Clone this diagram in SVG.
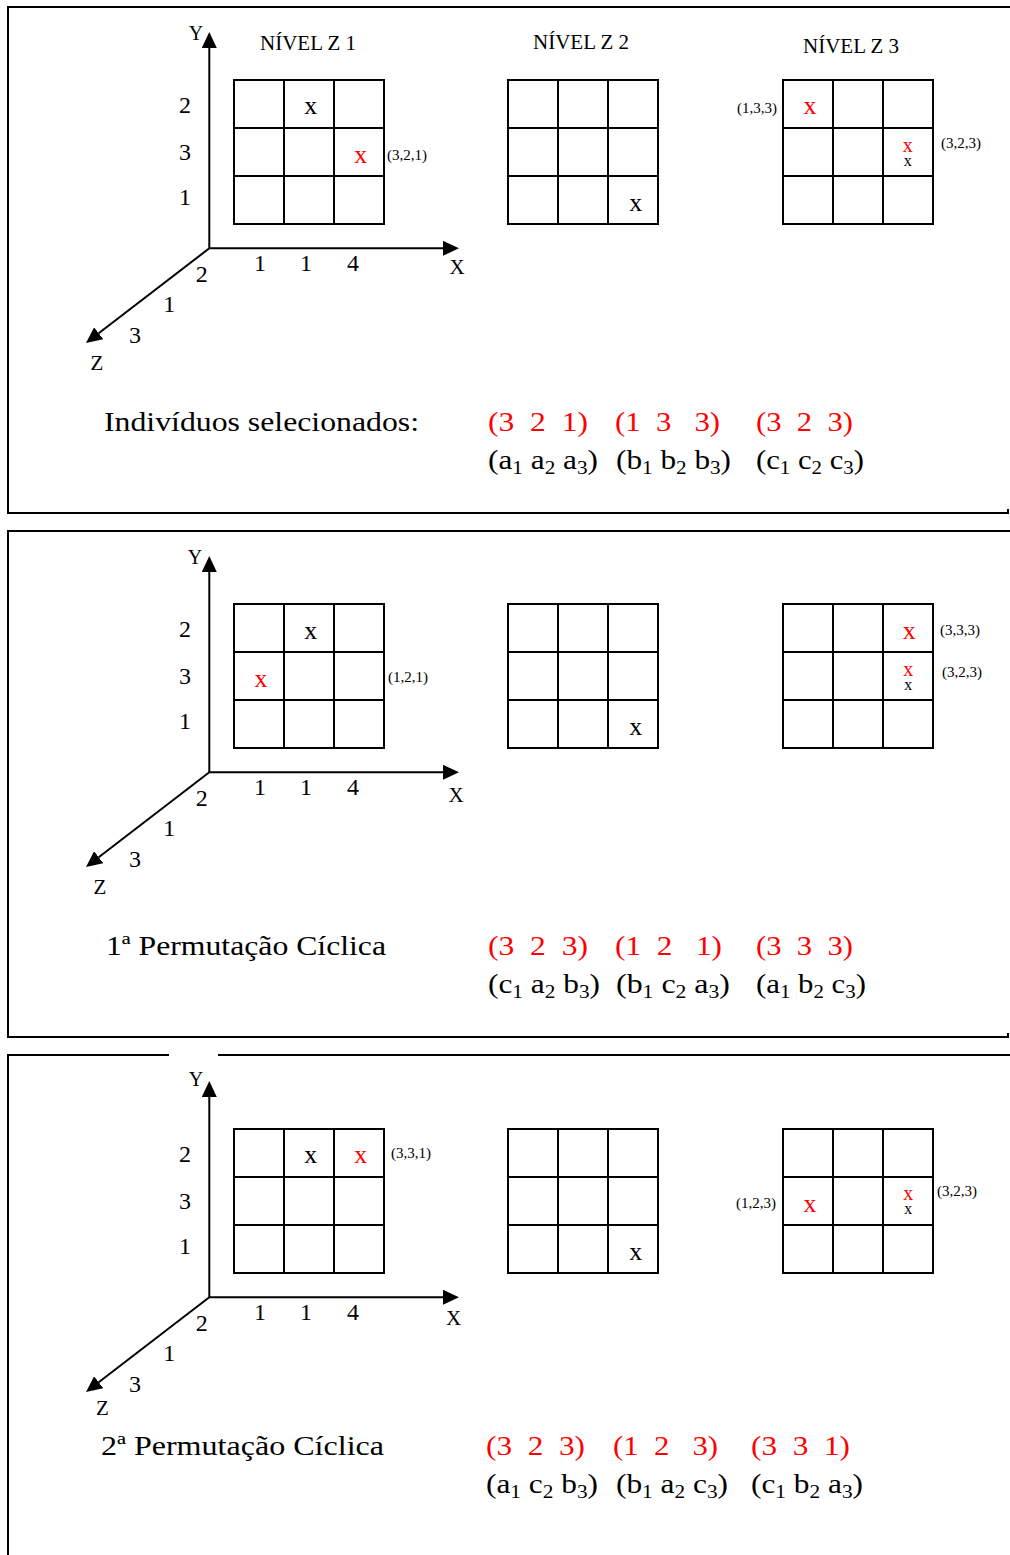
<svg xmlns="http://www.w3.org/2000/svg" xmlns:xlink="http://www.w3.org/1999/xlink" width="1010" height="1555" viewBox="0 0 1010 1555">
<style>
text{font-family:"Liberation Serif","Times New Roman",serif;fill:#000;white-space:pre}
.r{fill:#ff0000}
.m{text-anchor:middle}
.ax{font-size:21px}
.dg{font-size:24px;text-anchor:middle}
.nv{font-size:21px}
.x{font-size:26px;text-anchor:middle}
.xs{font-size:20px;text-anchor:middle}
.xt{font-size:16px;text-anchor:middle}
.lb{font-size:15px}
.big{font-size:28px}
.s{font-size:19px}
.bd{fill:none;stroke:#000;stroke-width:2}
.gl{fill:none;stroke:#000;stroke-width:2}
.axl{stroke:#000;stroke-width:2;fill:none;marker-end:url(#ah)}
</style>
<defs>
<marker id="ah" markerWidth="16" markerHeight="15" refX="0" refY="7.5" orient="auto" markerUnits="userSpaceOnUse"><path d="M0,0 L16,7.5 L0,15 z" fill="#000"/></marker>
<g id="grid">
<rect class="gl" x="0" y="0" width="150" height="144"/>
<path class="gl" d="M50,0V144M100,0V144M0,48H150M0,96H150"/>
</g>
<g id="axes">
<line class="axl" x1="209.3" y1="248.3" x2="209.3" y2="48"/>
<line class="axl" x1="209.3" y1="248.3" x2="443" y2="248.3"/>
<line class="axl" x1="209.3" y1="248.3" x2="98.7" y2="333.2"/>
</g>
</defs>

<g id="frames">
<path class="bd" d="M1012,7H8V513H1008V509"/>
<path class="bd" d="M1012,531H8V1037H1008V1033"/>
<path class="bd" d="M1012,1055H218M169,1055H8V1556"/>
</g>

<g id="panel1">
<use xlink:href="#axes"/>
<text class="ax m" x="196" y="39.5" style="font-size:20px">Y</text>
<text class="ax m" x="457" y="273.5">X</text>
<text class="ax m" x="97" y="369.5">Z</text>
<text class="dg" x="185" y="113.3">2</text>
<text class="dg" x="185" y="160">3</text>
<text class="dg" x="185" y="205">1</text>
<text class="dg" x="260" y="270.7">1</text>
<text class="dg" x="306" y="270.7">1</text>
<text class="dg" x="353" y="270.7">4</text>
<text class="dg" x="201.7" y="281.7">2</text>
<text class="dg" x="169.3" y="312.3">1</text>
<text class="dg" x="135" y="343.3">3</text>
<text class="nv" x="260" y="50">NÍVEL Z 1</text>
<text class="nv" x="533" y="49.3">NÍVEL Z 2</text>
<text class="nv" x="803" y="53.3">NÍVEL Z 3</text>
<g id="p1g1"><use xlink:href="#grid" x="234" y="80"/>
<text class="x" x="310.7" y="114.3">x</text>
<text class="x r" x="360.7" y="162.7">x</text>
<text class="lb" x="387" y="160">(3,2,1)</text></g>
<g id="p1g2"><use xlink:href="#grid" x="508" y="80"/>
<text class="x" x="635.7" y="211">x</text></g>
<g id="p1g3"><use xlink:href="#grid" x="783" y="80"/>
<text class="x r" x="810" y="114.3">x</text>
<text class="lb" x="737" y="112.7">(1,3,3)</text>
<text class="xs r" x="907.7" y="151.7">x</text>
<text class="xt" x="907.7" y="165.7">x</text>
<text class="lb" x="941" y="148.3">(3,2,3)</text></g>
<text class="big" x="104" y="431" textLength="315" lengthAdjust="spacingAndGlyphs">Indivíduos selecionados:</text>
<text class="big r" x="488" y="431" textLength="100" lengthAdjust="spacingAndGlyphs">(3  2  1)</text>
<text class="big r" x="615" y="431" textLength="105" lengthAdjust="spacingAndGlyphs">(1  3   3)</text>
<text class="big r" x="756" y="431" textLength="97" lengthAdjust="spacingAndGlyphs">(3  2  3)</text>
<text class="big" x="488" y="469" textLength="110" lengthAdjust="spacingAndGlyphs">(a<tspan class="s" dy="5">1</tspan><tspan dy="-5"> a</tspan><tspan class="s" dy="5">2</tspan><tspan dy="-5"> a</tspan><tspan class="s" dy="5">3</tspan><tspan dy="-5">)</tspan></text>
<text class="big" x="616" y="469" textLength="115" lengthAdjust="spacingAndGlyphs">(b<tspan class="s" dy="5">1</tspan><tspan dy="-5"> b</tspan><tspan class="s" dy="5">2</tspan><tspan dy="-5"> b</tspan><tspan class="s" dy="5">3</tspan><tspan dy="-5">)</tspan></text>
<text class="big" x="756" y="469" textLength="108" lengthAdjust="spacingAndGlyphs">(c<tspan class="s" dy="5">1</tspan><tspan dy="-5"> c</tspan><tspan class="s" dy="5">2</tspan><tspan dy="-5"> c</tspan><tspan class="s" dy="5">3</tspan><tspan dy="-5">)</tspan></text>
</g>

<g id="panel2">
<use xlink:href="#axes" y="524"/>
<text class="ax m" x="195" y="563.5" style="font-size:20px">Y</text>
<text class="ax m" x="456" y="801.5">X</text>
<text class="ax m" x="100" y="894">Z</text>
<text class="dg" x="185" y="637.3">2</text>
<text class="dg" x="185" y="684">3</text>
<text class="dg" x="185" y="729">1</text>
<text class="dg" x="260" y="794.7">1</text>
<text class="dg" x="306" y="794.7">1</text>
<text class="dg" x="353" y="794.7">4</text>
<text class="dg" x="201.7" y="805.7">2</text>
<text class="dg" x="169.3" y="836.3">1</text>
<text class="dg" x="135" y="867.3">3</text>
<g id="p2g1"><use xlink:href="#grid" x="234" y="604"/>
<text class="x" x="310.7" y="638.5">x</text>
<text class="x r" x="261" y="687.3">x</text>
<text class="lb" x="388" y="682">(1,2,1)</text></g>
<g id="p2g2"><use xlink:href="#grid" x="508" y="604"/>
<text class="x" x="635.7" y="735">x</text></g>
<g id="p2g3"><use xlink:href="#grid" x="783" y="604"/>
<text class="x r" x="909.3" y="639">x</text>
<text class="lb" x="940" y="635">(3,3,3)</text>
<text class="xs r" x="908.3" y="675.7">x</text>
<text class="xt" x="908.3" y="690">x</text>
<text class="lb" x="942" y="677">(3,2,3)</text></g>
<text class="big" x="106" y="955" textLength="280" lengthAdjust="spacingAndGlyphs">1ª Permutação Cíclica</text>
<text class="big r" x="488" y="955" textLength="100" lengthAdjust="spacingAndGlyphs">(3  2  3)</text>
<text class="big r" x="615" y="955" textLength="107" lengthAdjust="spacingAndGlyphs">(1  2   1)</text>
<text class="big r" x="756" y="955" textLength="97" lengthAdjust="spacingAndGlyphs">(3  3  3)</text>
<text class="big" x="488" y="993" textLength="112" lengthAdjust="spacingAndGlyphs">(c<tspan class="s" dy="5">1</tspan><tspan dy="-5"> a</tspan><tspan class="s" dy="5">2</tspan><tspan dy="-5"> b</tspan><tspan class="s" dy="5">3</tspan><tspan dy="-5">)</tspan></text>
<text class="big" x="616" y="993" textLength="114" lengthAdjust="spacingAndGlyphs">(b<tspan class="s" dy="5">1</tspan><tspan dy="-5"> c</tspan><tspan class="s" dy="5">2</tspan><tspan dy="-5"> a</tspan><tspan class="s" dy="5">3</tspan><tspan dy="-5">)</tspan></text>
<text class="big" x="756" y="993" textLength="110" lengthAdjust="spacingAndGlyphs">(a<tspan class="s" dy="5">1</tspan><tspan dy="-5"> b</tspan><tspan class="s" dy="5">2</tspan><tspan dy="-5"> c</tspan><tspan class="s" dy="5">3</tspan><tspan dy="-5">)</tspan></text>
</g>

<g id="panel3">
<use xlink:href="#axes" y="1049"/>
<text class="ax m" x="196" y="1086" style="font-size:20px">Y</text>
<text class="ax m" x="453.5" y="1325">X</text>
<text class="ax m" x="102.5" y="1415">Z</text>
<text class="dg" x="185" y="1162.3">2</text>
<text class="dg" x="185" y="1209">3</text>
<text class="dg" x="185" y="1254">1</text>
<text class="dg" x="260" y="1319.7">1</text>
<text class="dg" x="306" y="1319.7">1</text>
<text class="dg" x="353" y="1319.7">4</text>
<text class="dg" x="201.7" y="1330.7">2</text>
<text class="dg" x="169.3" y="1361.3">1</text>
<text class="dg" x="135" y="1392.3">3</text>
<g id="p3g1"><use xlink:href="#grid" x="234" y="1129"/>
<text class="x" x="310.7" y="1163.3">x</text>
<text class="x r" x="360.7" y="1163.3">x</text>
<text class="lb" x="391" y="1158">(3,3,1)</text></g>
<g id="p3g2"><use xlink:href="#grid" x="508" y="1129"/>
<text class="x" x="635.7" y="1260">x</text></g>
<g id="p3g3"><use xlink:href="#grid" x="783" y="1129"/>
<text class="x r" x="810" y="1211.7">x</text>
<text class="lb" x="736" y="1208">(1,2,3)</text>
<text class="xs r" x="908.3" y="1200">x</text>
<text class="xt" x="908.3" y="1214">x</text>
<text class="lb" x="937" y="1196">(3,2,3)</text></g>
<text class="big" x="101" y="1455" textLength="283" lengthAdjust="spacingAndGlyphs">2ª Permutação Cíclica</text>
<text class="big r" x="486" y="1455" textLength="99" lengthAdjust="spacingAndGlyphs">(3  2  3)</text>
<text class="big r" x="613" y="1455" textLength="105" lengthAdjust="spacingAndGlyphs">(1  2   3)</text>
<text class="big r" x="751" y="1455" textLength="99" lengthAdjust="spacingAndGlyphs">(3  3  1)</text>
<text class="big" x="486" y="1493" textLength="112" lengthAdjust="spacingAndGlyphs">(a<tspan class="s" dy="5">1</tspan><tspan dy="-5"> c</tspan><tspan class="s" dy="5">2</tspan><tspan dy="-5"> b</tspan><tspan class="s" dy="5">3</tspan><tspan dy="-5">)</tspan></text>
<text class="big" x="616" y="1493" textLength="112" lengthAdjust="spacingAndGlyphs">(b<tspan class="s" dy="5">1</tspan><tspan dy="-5"> a</tspan><tspan class="s" dy="5">2</tspan><tspan dy="-5"> c</tspan><tspan class="s" dy="5">3</tspan><tspan dy="-5">)</tspan></text>
<text class="big" x="751" y="1493" textLength="112" lengthAdjust="spacingAndGlyphs">(c<tspan class="s" dy="5">1</tspan><tspan dy="-5"> b</tspan><tspan class="s" dy="5">2</tspan><tspan dy="-5"> a</tspan><tspan class="s" dy="5">3</tspan><tspan dy="-5">)</tspan></text>
</g>
</svg>
